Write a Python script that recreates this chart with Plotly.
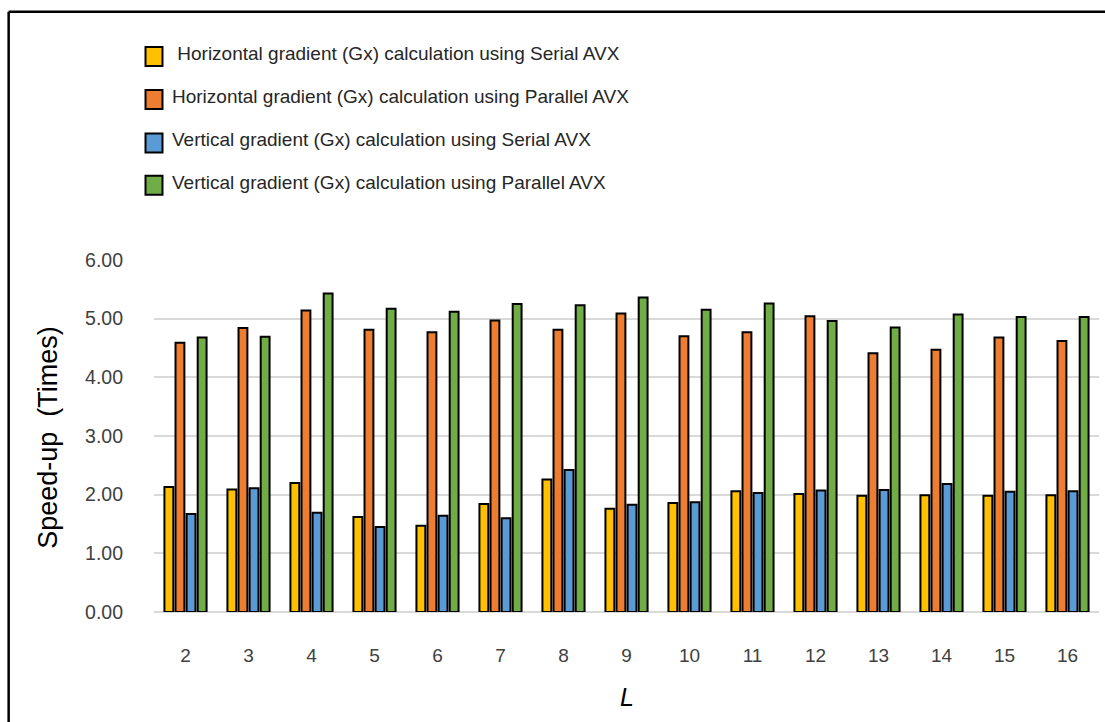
import plotly.graph_objects as go

# ---- data -------------------------------------------------------------
L_values = ["2", "3", "4", "5", "6", "7", "8", "9", "10", "11", "12", "13", "14", "15", "16"]

series_names = [
    "\u00a0Horizontal gradient (Gx) calculation using Serial AVX",
    "Horizontal gradient (Gx) calculation using Parallel AVX",
    "Vertical gradient (Gx) calculation using Serial AVX",
    "Vertical gradient (Gx) calculation using Parallel AVX",
]

h_serial = [2.13, 2.09, 2.20, 1.62, 1.47, 1.84, 2.26, 1.76, 1.86, 2.06, 2.01, 1.98, 1.99, 1.98, 1.99]
h_parallel = [4.59, 4.84, 5.14, 4.81, 4.77, 4.97, 4.81, 5.09, 4.70, 4.77, 5.04, 4.41, 4.47, 4.68, 4.62]
v_serial = [1.67, 2.11, 1.69, 1.45, 1.64, 1.60, 2.42, 1.83, 1.87, 2.03, 2.07, 2.08, 2.18, 2.05, 2.06]
v_parallel = [4.68, 4.69, 5.43, 5.17, 5.12, 5.25, 5.23, 5.36, 5.15, 5.26, 4.96, 4.85, 5.07, 5.03, 5.03]

series_values = [h_serial, h_parallel, v_serial, v_parallel]
series_colors = ["#FFC000", "#ED7D31", "#5B9BD5", "#70AD47"]

y_ticks = [0, 1, 2, 3, 4, 5, 6]

# ---- page geometry (pixels) --------------------------------------------
W, H = 1105, 722
PL, PR, PT, PB = 153.5, 1099.5, 260.0, 611.7  # plot-area edges


def fx(px):
    return (px - PL) / (PR - PL)


def fy(py):
    return (PB - py) / (PB - PT)


FONT = "Arial, Liberation Sans, sans-serif"

fig = go.Figure()
for name, vals, col in zip(series_names, series_values, series_colors):
    fig.add_trace(go.Bar(
        x=L_values, y=vals, name=name.strip(),
        marker=dict(color=col, line=dict(color="black", width=2)),
        showlegend=False,
    ))

shapes = []
annotations = []

# frame around the figure (top and left edges visible)
shapes.append(dict(type="line", xref="paper", yref="paper",
                   x0=fx(8), x1=fx(W + 20), y0=fy(12), y1=fy(12),
                   line=dict(color="black", width=2.5)))
shapes.append(dict(type="line", xref="paper", yref="paper",
                   x0=fx(8), x1=fx(8), y0=fy(12), y1=fy(H + 20),
                   line=dict(color="black", width=2.5)))

# legend keys with outlined swatches
key_centers = [56.7, 99.7, 143.0, 185.3]
for name, col, cy in zip(series_names, series_colors, key_centers):
    shapes.append(dict(type="rect", xref="paper", yref="paper",
                       x0=fx(145), x1=fx(162), y0=fy(cy + 9.5), y1=fy(cy - 9.5),
                       fillcolor=col, line=dict(color="black", width=2)))
    annotations.append(dict(text=name, xref="paper", yref="paper",
                            x=fx(170), y=fy(cy - 3), xanchor="left", yanchor="middle",
                            showarrow=False, font=dict(family=FONT, size=19, color="#262626")))

# axis titles
annotations.append(dict(text="Speed-up\u00a0 (Times)", xref="paper", yref="paper",
                        x=fx(48), y=fy(437), textangle=-90, xanchor="center", yanchor="middle",
                        showarrow=False, font=dict(family=FONT, size=27, color="#000000")))
annotations.append(dict(text="<i>L</i>", xref="paper", yref="paper",
                        x=fx(627), y=fy(697), xanchor="center", yanchor="middle",
                        showarrow=False, font=dict(family=FONT, size=25, color="#000000")))

fig.update_layout(
    width=W, height=H,
    margin=dict(l=PL, r=W - PR, t=PT, b=H - PB, pad=0),
    paper_bgcolor="white", plot_bgcolor="white",
    barmode="group", bargap=0.296, bargroupgap=0.2,
    shapes=shapes, annotations=annotations,
    font=dict(family=FONT),
)
fig.update_xaxes(
    type="category", showgrid=False, showline=False, ticks="",
    tickfont=dict(family=FONT, size=19, color="#404040"),
    ticklabelstandoff=30,
)
fig.update_yaxes(
    range=[0, 6], tickvals=y_ticks, tickformat=".2f",
    showgrid=True, gridcolor="#d9d9d9", gridwidth=1.5,
    zeroline=True, zerolinecolor="#d9d9d9", zerolinewidth=1.5,
    showline=False, ticks="",
    tickfont=dict(family=FONT, size=19.5, color="#404040"),
    ticklabelstandoff=30,
)

fig.write_html("out.html")
